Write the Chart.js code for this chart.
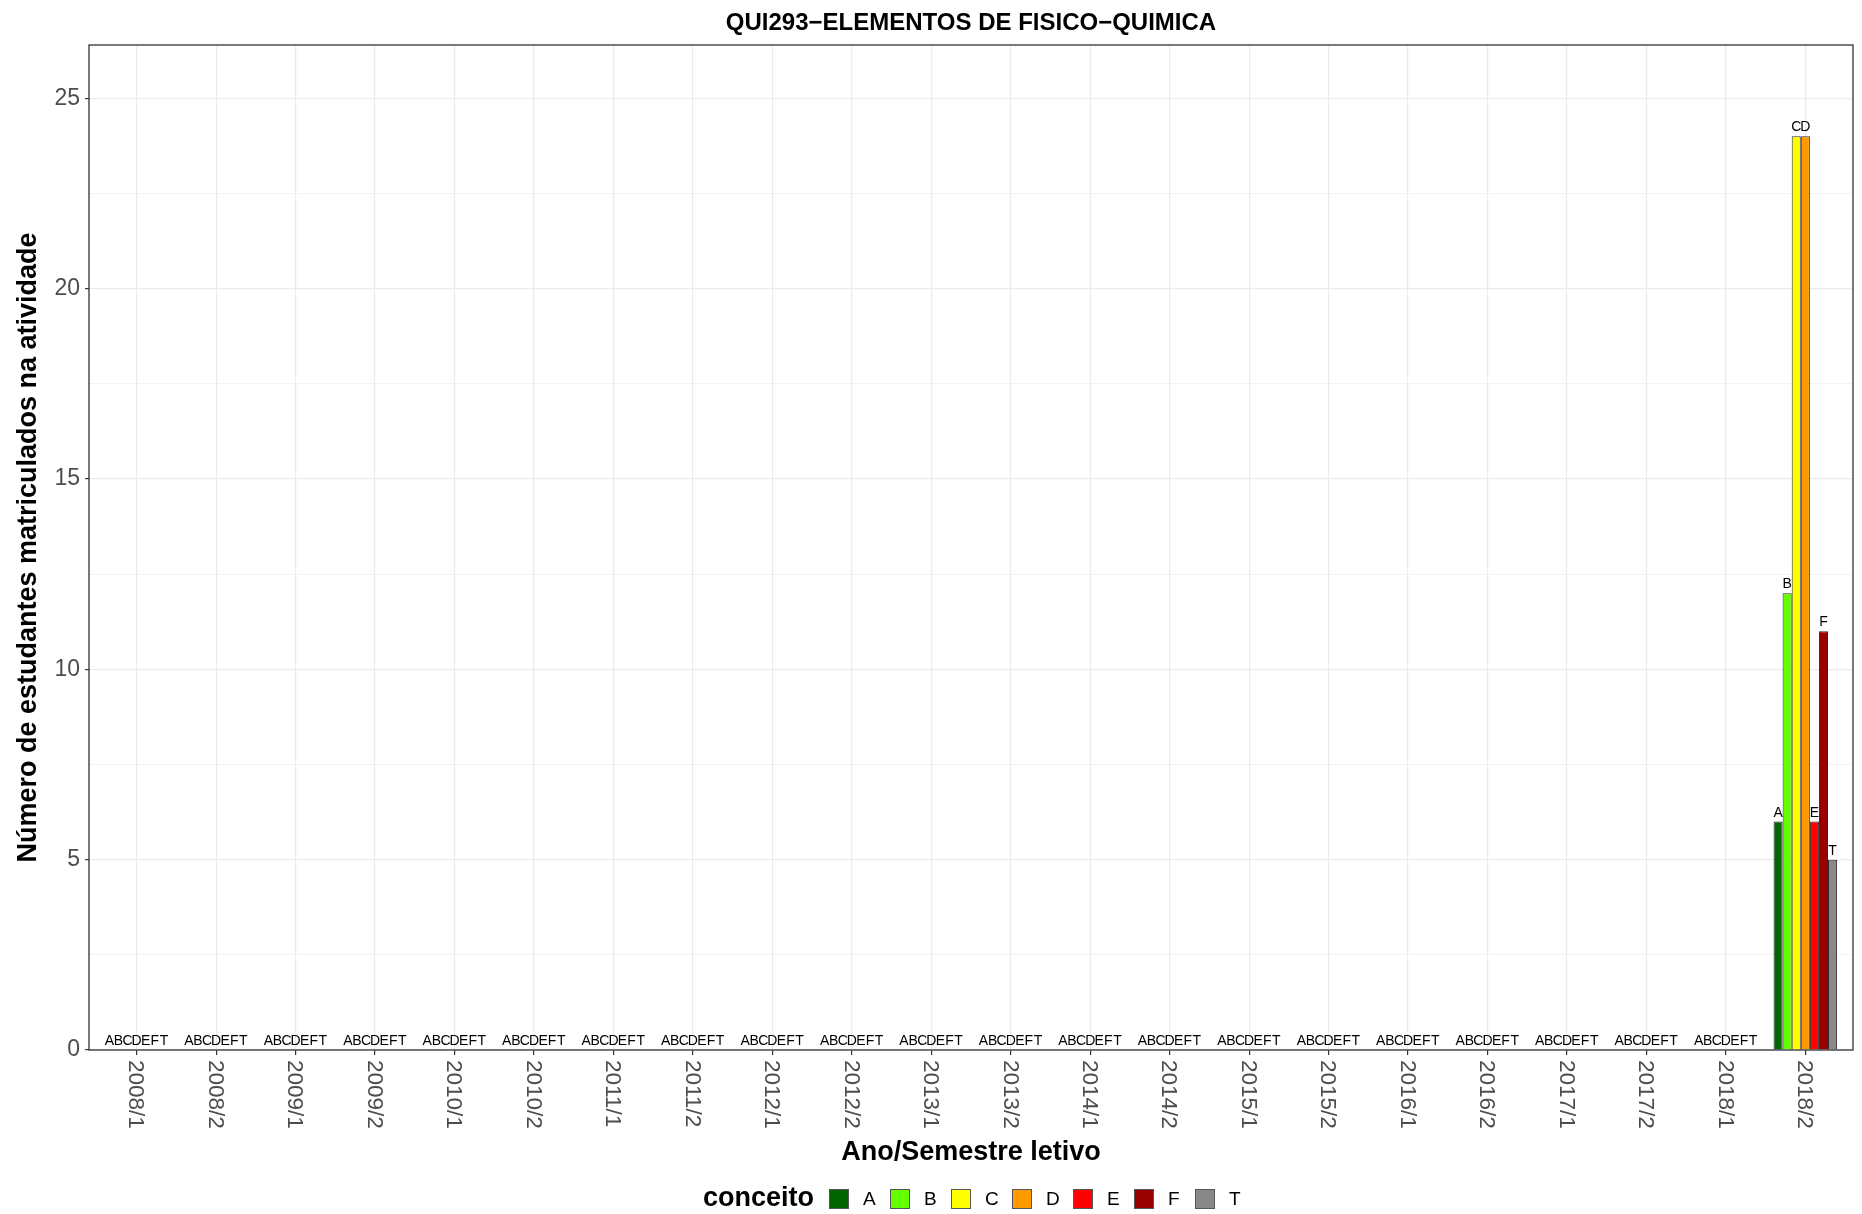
<!DOCTYPE html>
<html>
<head>
<meta charset="utf-8">
<title>QUI293-ELEMENTOS DE FISICO-QUIMICA</title>
<script src="https://cdn.jsdelivr.net/npm/chart.js@4.4.1/dist/chart.umd.min.js"></script>
<style>
  html, body { margin: 0; padding: 0; background: #fff; }
  #wrap { width: 1862px; height: 1214px; }
</style>
</head>
<body>
<div id="wrap"><canvas id="grafico" width="1862" height="1214"></canvas></div>
<script>
const semestres = ['2008/1', '2008/2', '2009/1', '2009/2', '2010/1', '2010/2', '2011/1', '2011/2',
  '2012/1', '2012/2', '2013/1', '2013/2', '2014/1', '2014/2', '2015/1', '2015/2',
  '2016/1', '2016/2', '2017/1', '2017/2', '2018/1', '2018/2'];
const conceitos = ['A', 'B', 'C', 'D', 'E', 'F', 'T'];
const cores = ['#006400', '#66FF00', '#FFFF00', '#FF9900', '#FF0000', '#990000', '#888888'];

// alunos por conceito em cada semestre (so 2018/2 tem turma)
const alunosA = [0, 0, 0, 0, 0, 0, 0, 0, 0, 0, 0, 0, 0, 0, 0, 0, 0, 0, 0, 0, 0, 6];
const alunosB = [0, 0, 0, 0, 0, 0, 0, 0, 0, 0, 0, 0, 0, 0, 0, 0, 0, 0, 0, 0, 0, 12];
const alunosC = [0, 0, 0, 0, 0, 0, 0, 0, 0, 0, 0, 0, 0, 0, 0, 0, 0, 0, 0, 0, 0, 24];
const alunosD = [0, 0, 0, 0, 0, 0, 0, 0, 0, 0, 0, 0, 0, 0, 0, 0, 0, 0, 0, 0, 0, 24];
const alunosE = [0, 0, 0, 0, 0, 0, 0, 0, 0, 0, 0, 0, 0, 0, 0, 0, 0, 0, 0, 0, 0, 6];
const alunosF = [0, 0, 0, 0, 0, 0, 0, 0, 0, 0, 0, 0, 0, 0, 0, 0, 0, 0, 0, 0, 0, 11];
const alunosT = [0, 0, 0, 0, 0, 0, 0, 0, 0, 0, 0, 0, 0, 0, 0, 0, 0, 0, 0, 0, 0, 5];

const ticksY = [0, 2.5, 5, 7.5, 10, 12.5, 15, 17.5, 20, 22.5, 25];

const FONTE = '"Liberation Sans", Arial, Helvetica, sans-serif';
Chart.defaults.font.family = FONTE;

const series = [alunosA, alunosB, alunosC, alunosD, alunosE, alunosF, alunosT];

const datasets = series.map((valores, i) => ({
  label: conceitos[i],
  data: valores.map((v, j) => ({ x: j, y: v })),
  backgroundColor: cores[i],
  borderColor: '#2b2b2b',
  borderWidth: ctx => (ctx.raw && ctx.raw.y === 0 ? 0 : 1),
  categoryPercentage: 0.8,
  barPercentage: 1.0,
}));

// textos extras: borda do painel, rotulos das barras, eixo x, titulo e legenda
const extras = {
  id: 'extras',
  afterDatasetsDraw(chart) {
    const { ctx, chartArea: a, scales: { x } } = chart;
    ctx.save();

    ctx.strokeStyle = '#333333';
    ctx.lineWidth = 1.3;
    ctx.strokeRect(a.left, a.top, a.right - a.left, a.bottom - a.top);

    // letra do conceito em cima de cada barra
    ctx.font = '14px ' + FONTE;
    ctx.fillStyle = '#000';
    ctx.textAlign = 'center';
    ctx.textBaseline = 'alphabetic';
    chart.data.datasets.forEach((ds, di) => {
      chart.getDatasetMeta(di).data.forEach(barra => {
        ctx.fillText(ds.label, barra.x, barra.y - 5);
      });
    });

    // rotulos do eixo x girados (lidos de cima pra baixo)
    ctx.font = '22.5px ' + FONTE;
    ctx.fillStyle = '#4d4d4d';
    ctx.textAlign = 'left';
    ctx.textBaseline = 'middle';
    semestres.forEach((s, i) => {
      const px = x.getPixelForValue(i);
      ctx.save();
      ctx.translate(px - 1, a.bottom + 10);
      ctx.rotate(Math.PI / 2);
      ctx.fillText(s, 0, 0);
      ctx.restore();
    });

    const meio = (a.left + a.right) / 2;

    ctx.font = 'bold 24px ' + FONTE;
    ctx.fillStyle = '#000';
    ctx.textAlign = 'center';
    ctx.fillText('QUI293\u2212ELEMENTOS DE FISICO\u2212QUIMICA', meio, 23);

    // legenda
    const ly = 1199;
    let lx = meio - 268;
    ctx.textAlign = 'left';
    ctx.font = 'bold 27px ' + FONTE;
    ctx.fillText('conceito', lx, ly);
    lx += 126;
    conceitos.forEach((c, i) => {
      const bx = lx + i * 61;
      ctx.fillStyle = cores[i];
      ctx.fillRect(bx, ly - 10, 20, 20);
      ctx.strokeStyle = '#555555';
      ctx.lineWidth = 1;
      ctx.strokeRect(bx + 0.5, ly - 9.5, 19, 19);
      ctx.fillStyle = '#000';
      ctx.font = '19px ' + FONTE;
      ctx.fillText(c, bx + 34, ly + 1);
    });

    ctx.restore();
  }
};

new Chart(document.getElementById('grafico'), {
  type: 'bar',
  data: { datasets },
  options: {
    responsive: false,
    animation: false,
    layout: { padding: { top: 45, right: 9, bottom: 45, left: 0 } },
    plugins: {
      legend: { display: false },
      tooltip: { enabled: false },
      title: { display: false },
    },
    scales: {
      x: {
        type: 'linear',
        min: -0.6,
        max: 21.6,
        offset: false,
        afterBuildTicks: s => { s.ticks = semestres.map((_, i) => ({ value: i })); },
        afterFit: s => { s.height = 119; },
        ticks: { display: false },
        grid: { offset: false, color: '#ebebeb', lineWidth: 1.2, tickLength: 5, tickColor: '#333333' },
        border: { display: false },
        title: {
          display: true,
          text: 'Ano/Semestre letivo',
          color: '#000',
          font: { size: 27, weight: 'bold' },
          padding: 0,
        },
      },
      y: {
        min: 0,
        max: 26.4,
        afterBuildTicks: s => { s.ticks = ticksY.map(v => ({ value: v })); },
        afterFit: s => { s.width = 89; },
        ticks: {
          callback: v => (v % 5 === 0 ? v : ''),
          color: '#4d4d4d',
          font: { size: 23 },
          padding: 5,
        },
        grid: {
          color: '#ebebeb',
          lineWidth: ctx => (ctx.tick && ctx.tick.value % 5 === 0 ? 1.2 : 0.6),
          tickLength: 4,
          tickColor: ctx => (ctx.tick && ctx.tick.value % 5 === 0 ? '#333333' : 'rgba(0,0,0,0)'),
        },
        border: { display: false },
        title: {
          display: true,
          text: 'Número de estudantes matriculados na atividade',
          color: '#000',
          font: { size: 27, weight: 'bold' },
          padding: { top: 12.3, bottom: 0 },
        },
      },
    },
  },
  plugins: [extras],
});
</script>
</body>
</html>
